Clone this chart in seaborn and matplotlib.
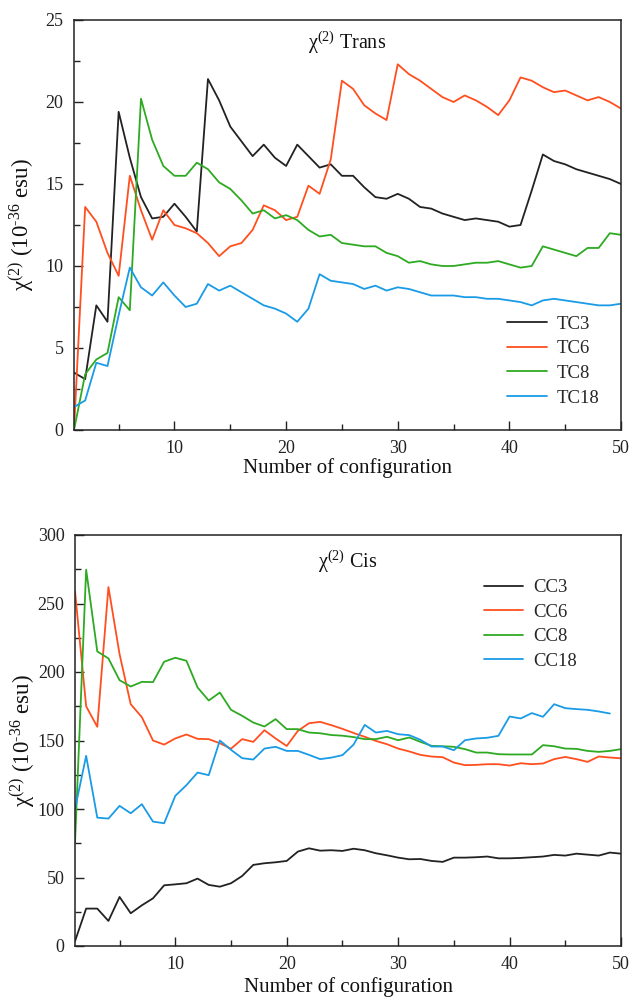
import numpy as np
import pandas as pd
import matplotlib
matplotlib.use("Agg")
import matplotlib.pyplot as plt
import seaborn as sns
from matplotlib.ticker import MultipleLocator

# ---------------- data ----------------
config = list(range(1, 51))

TC3 = [3.5, 3.1, 7.6, 6.6, 19.4, 16.6, 14.2, 12.9, 13.0, 13.8,
       13.0, 12.1, 21.4, 20.1, 18.5, 17.6, 16.7, 17.4, 16.6, 16.1,
       17.4, 16.7, 16.0, 16.2, 15.5, 15.5, 14.8, 14.2, 14.1, 14.4,
       14.1, 13.6, 13.5, 13.2, 13.0, 12.8, 12.9, 12.8, 12.7, 12.4,
       12.5, 14.6, 16.8, 16.4, 16.2, 15.9, 15.7, 15.5, 15.3, 15.0]
TC6 = [0.0, 13.6, 12.7, 10.8, 9.4, 15.5, 13.4, 11.6, 13.4, 12.5,
       12.3, 12.0, 11.4, 10.6, 11.2, 11.4, 12.2, 13.7, 13.4, 12.8,
       13.0, 14.9, 14.4, 16.5, 21.3, 20.8, 19.8, 19.3, 18.9, 22.3,
       21.7, 21.3, 20.8, 20.3, 20.0, 20.4, 20.1, 19.7, 19.2, 20.1,
       21.5, 21.3, 20.9, 20.6, 20.7, 20.4, 20.1, 20.3, 20.0, 19.6]
TC8 = [0.0, 3.4, 4.3, 4.7, 8.1, 7.3, 20.2, 17.7, 16.1, 15.5,
       15.5, 16.3, 15.9, 15.1, 14.7, 14.0, 13.2, 13.4, 12.9, 13.1,
       12.8, 12.2, 11.8, 11.9, 11.4, 11.3, 11.2, 11.2, 10.8, 10.6,
       10.2, 10.3, 10.1, 10.0, 10.0, 10.1, 10.2, 10.2, 10.3, 10.1,
       9.9, 10.0, 11.2, 11.0, 10.8, 10.6, 11.1, 11.1, 12.0, 11.9]
TC18 = [1.4, 1.8, 4.1, 3.9, 7.0, 9.9, 8.7, 8.2, 9.0, 8.2,
        7.5, 7.7, 8.9, 8.5, 8.8, 8.4, 8.0, 7.6, 7.4, 7.1,
        6.6, 7.4, 9.5, 9.1, 9.0, 8.9, 8.6, 8.8, 8.5, 8.7,
        8.6, 8.4, 8.2, 8.2, 8.2, 8.1, 8.1, 8.0, 8.0, 7.9,
        7.8, 7.6, 7.9, 8.0, 7.9, 7.8, 7.7, 7.6, 7.6, 7.7]

CC3 = [3.5, 27.3, 27.3, 18.3, 35.8, 23.9, 29.7, 34.8, 44.3, 45.0,
       45.8, 49.2, 44.6, 43.3, 45.8, 51.1, 59.2, 60.4, 61.1, 62.1,
       68.9, 71.3, 69.6, 69.9, 69.4, 71.0, 69.9, 67.7, 66.2, 64.5,
       63.3, 63.5, 62.1, 61.4, 64.5, 64.5, 64.8, 65.3, 64.0, 64.0,
       64.3, 64.8, 65.3, 66.5, 66.0, 67.4, 66.7, 66.0, 68.2, 67.4]
CC6 = [259, 175, 160, 262, 213, 176.5, 167, 150, 147, 151.5,
       154.4, 151.2, 151, 148, 144, 151, 149, 157.5, 151.5, 146,
       157, 162.6, 163.6, 161.2, 158.5, 155.5, 152.7, 149.7, 147.3, 144.1,
       142, 139.5, 138.3, 137.8, 133.9, 132, 132.2, 132.7, 132.7, 131.7,
       133.4, 132.7, 133.2, 136.4, 138, 136.4, 134.4, 138.3, 137.6, 137]
CC8 = [75, 274.7, 215, 209.9, 194, 189.4, 192.8, 192.6, 207.5, 210.4,
       208.2, 188.7, 179.2, 185, 172.4, 168, 163.1, 160.2, 165.6, 158.3,
       158.3, 155.8, 155.3, 154, 153.5, 152.5, 151, 151, 152.7, 150.2,
       152.2, 149, 146.1, 145.8, 145.4, 143.7, 141.2, 141.2, 140, 139.8,
       139.8, 139.8, 146.6, 145.8, 144.1, 143.9, 142.4, 141.7, 142.4, 143.7]
CC18 = [100, 138.8, 93.7, 93, 102.3, 96.9, 103.5, 90.8, 89.6, 109.6,
        117.4, 126.6, 124.7, 150, 143.2, 137.1, 136.1, 144.1, 145.4, 142.4,
        142.4, 139.5, 136.4, 137.5, 139.3, 147, 161.4, 155.8, 157, 154.6,
        153.9, 150.5, 145.6, 145.6, 142.9, 150.2, 151.5, 152, 153.4, 167.5,
        166.1, 170, 167.3, 176.5, 173.6, 172.9, 172.4, 171.2, 169.7, np.nan]

trans_names = ["TC3", "TC6", "TC8", "TC18"]
cis_names = ["CC3", "CC6", "CC8", "CC18"]
colors = ["#222222", "#FF4F1F", "#2EAA22", "#1A9BE6"]

# ---------------- style ----------------
sns.set_theme(style="ticks")
plt.rcParams["font.family"] = ["Liberation Serif", "DejaVu Serif"]
plt.rcParams["mathtext.fontset"] = "custom"
plt.rcParams["mathtext.rm"] = "Liberation Serif"
plt.rcParams["mathtext.it"] = "Liberation Serif:italic"
plt.rcParams["mathtext.bf"] = "Liberation Serif:bold"


def long_frame(names, series):
    frames = []
    for n, s in zip(names, series):
        frames.append(pd.DataFrame({"config": config, "value": s, "series": n}))
    return pd.concat(frames, ignore_index=True)


df_t = long_frame(trans_names, [TC3, TC6, TC8, TC18])
df_c = long_frame(cis_names, [CC3, CC6, CC8, CC18])

fig = plt.figure(figsize=(6.32, 10.01), dpi=100)
W, H = 632, 1001
ax1 = fig.add_axes([74 / W, 1 - 430 / H, 547 / W, 410 / H])
ax2 = fig.add_axes([75 / W, 1 - 946 / H, 546 / W, 411 / H])

ylabel = "χ$^{(2)}$ (10$^{\\text{-36}}$ esu)"

for ax, df, names, ylim, ymaj, ymin, title, ty, leg_anchor, xl_y in [
    (ax1, df_t, trans_names, (0, 25), 5, 2.5, "χ$^{(2)}$ Trans", 0.944, (0.792, 0.279), -0.068),
    (ax2, df_c, cis_names, (0, 300), 50, 25, "χ$^{(2)}$ Cis", 0.934, (0.749, 0.893), -0.0745),
]:
    sns.lineplot(data=df, x="config", y="value", hue="series", hue_order=names,
                 palette=dict(zip(names, colors)), linewidth=1.3, ax=ax,
                 estimator=None, sort=True)
    ax.set_xlim(1, 50)
    ax.set_ylim(*ylim)
    ax.xaxis.set_major_locator(MultipleLocator(10))
    ax.xaxis.set_minor_locator(MultipleLocator(5))
    ax.yaxis.set_major_locator(MultipleLocator(ymaj))
    ax.yaxis.set_minor_locator(MultipleLocator(ymin))
    ax.tick_params(which="both", direction="in", top=False, right=False,
                   labelsize=13, colors="#222222", width=1.0)
    ax.tick_params(which="major", length=6.5, pad=7.5)
    ax.tick_params(which="minor", length=4)
    for sp in ax.spines.values():
        sp.set_visible(True)
        sp.set_linewidth(1.1)
        sp.set_color("#222222")
    ax.set_xlabel("Number of configuration", fontsize=15, color="#111111")
    ax.set_ylabel(ylabel, fontsize=16.5, color="#111111")
    ax.xaxis.set_label_coords(0.5, xl_y)
    ax.yaxis.set_label_coords(-0.07, 0.5)
    ax.text(0.5, ty, title, transform=ax.transAxes, ha="center", va="center",
            fontsize=14.5, color="#111111")
    handles, labels = ax.get_legend_handles_labels()
    ax.legend(handles, labels, loc="upper left", bbox_to_anchor=leg_anchor,
              frameon=False, fontsize=13.5, handlelength=2.1, handletextpad=0.55,
              labelspacing=0.4, borderpad=0, borderaxespad=0)
    ax.grid(False)

fig.savefig("out.png", dpi=100)
